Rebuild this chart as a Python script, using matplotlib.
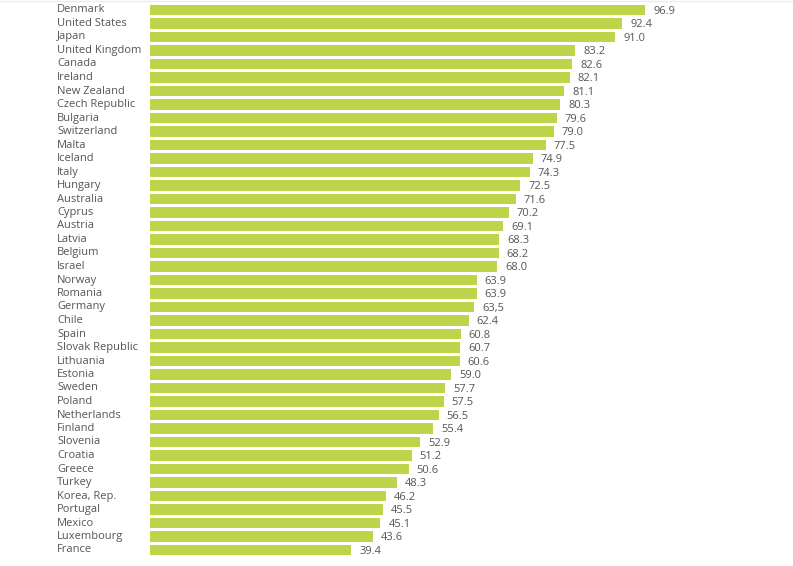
import matplotlib.pyplot as plt

# countries, top to bottom
countries = [
    "Denmark", "United States", "Japan", "United Kingdom", "Canada",
    "Ireland", "New Zealand", "Czech Republic", "Bulgaria", "Switzerland",
    "Malta", "Iceland", "Italy", "Hungary", "Australia", "Cyprus",
    "Austria", "Latvia", "Belgium", "Israel", "Norway", "Romania",
    "Germany", "Chile", "Spain", "Slovak Republic", "Lithuania", "Estonia",
    "Sweden", "Poland", "Netherlands", "Finland", "Slovenia", "Croatia",
    "Greece", "Turkey", "Korea, Rep.", "Portugal", "Mexico", "Luxembourg",
    "France",
]
values = [
    96.9, 92.4, 91.0, 83.2, 82.6, 82.1, 81.1, 80.3, 79.6, 79.0,
    77.5, 74.9, 74.3, 72.5, 71.6, 70.2, 69.1, 68.3, 68.2, 68.0,
    63.9, 63.9, 63.5, 62.4, 60.8, 60.7, 60.6, 59.0, 57.7, 57.5,
    56.5, 55.4, 52.9, 51.2, 50.6, 48.3, 46.2, 45.5, 45.1, 43.6,
    39.4,
]
# labels as printed (Germany uses a comma)
value_labels = [
    "96.9", "92.4", "91.0", "83.2", "82.6", "82.1", "81.1", "80.3", "79.6", "79.0",
    "77.5", "74.9", "74.3", "72.5", "71.6", "70.2", "69.1", "68.3", "68.2", "68.0",
    "63.9", "63.9", "63,5", "62.4", "60.8", "60.7", "60.6", "59.0", "57.7", "57.5",
    "56.5", "55.4", "52.9", "51.2", "50.6", "48.3", "46.2", "45.5", "45.1", "43.6",
    "39.4",
]

BAR_COLOR = "#bdd54a"
TEXT_COLOR = "#555555"

W, H = 793, 566
fig = plt.figure(figsize=(W / 100, H / 100), dpi=100)
ax = fig.add_axes([150 / W, 0, 1 - 150 / W, 1])

px_per_unit = 5.11
row_px = 13.5
n = len(countries)
ax.set_xlim(0, (W - 150) / px_per_unit)
ax.set_ylim(n - 1 + (H - 550) / row_px, -10 / row_px)

ypos = list(range(n))
ax.barh(ypos, values, height=0.78, color=BAR_COLOR)

label_x = (57 - 150) / px_per_unit
for i, (name, v, lab) in enumerate(zip(countries, values, value_labels)):
    ax.text(label_x, i, name, ha="left", va="center", fontsize=8,
            color=TEXT_COLOR, family="Open Sans", clip_on=False)
    ax.text(v + 8 / px_per_unit, i + 0.08, lab, ha="left", va="center",
            fontsize=8, color=TEXT_COLOR, family="Open Sans")

ax.axis("off")

# faint rule along the top edge
fig.add_artist(plt.Line2D([0, 1], [0.999, 0.999], color="#ececec", lw=1))

fig.savefig("out.png", dpi=100)
